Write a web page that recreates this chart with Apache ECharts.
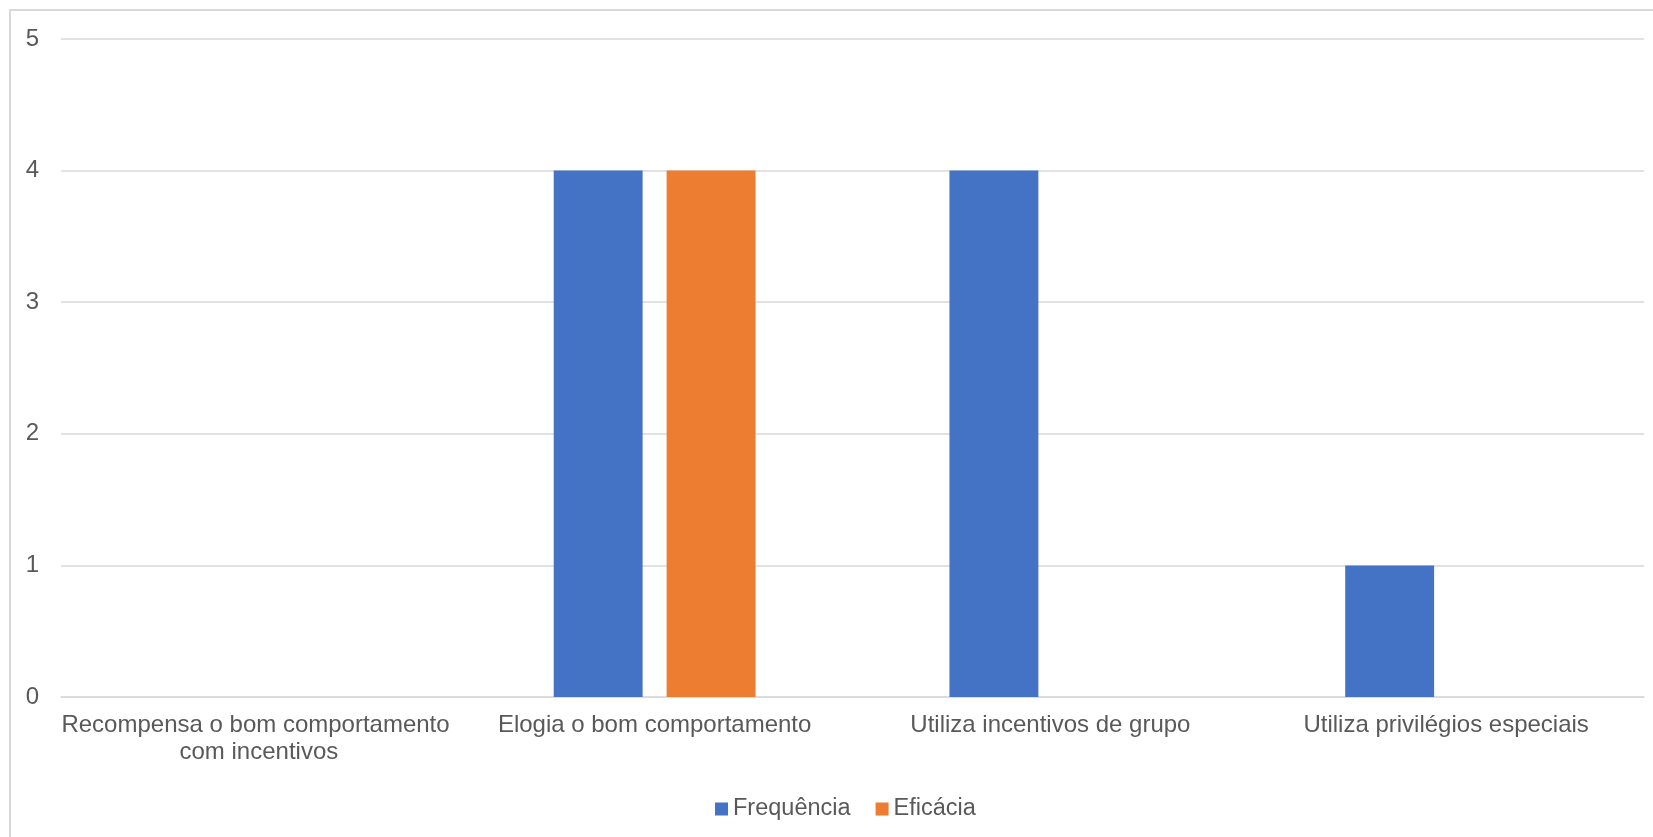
<!DOCTYPE html>
<html>
<head>
<meta charset="utf-8">
<script src="https://cdn.jsdelivr.net/npm/echarts@6/dist/echarts.min.js"></script>
<style>
  html, body { margin: 0; padding: 0; background: #fff; overflow: hidden; }
  #chart { width: 1653px; height: 837px; }
</style>
</head>
<body>
<div id="chart"></div>
<script>
// dados
var categorias = [
  'Recompensa o bom comportamento com incentivos',
  'Elogia o bom comportamento',
  'Utiliza incentivos de grupo',
  'Utiliza privilégios especiais'
];
var frequencia = [0, 4, 4, 1];
var eficacia = [0, 4, 0, 0];
var yTicks = { min: 0, max: 5, interval: 1 };

var font = '"Liberation Sans", Arial, sans-serif';
var textColor = '#595959';
var gridColor = '#d9d9d9';

var chart = echarts.init(document.getElementById('chart'));
chart.setOption({
  animation: false,
  textStyle: { fontFamily: font },
  graphic: [{
    type: 'rect',
    shape: { x: 10, y: 10, width: 1700, height: 900 },
    style: { fill: 'none', stroke: gridColor, lineWidth: 2 },
    silent: true
  }],
  grid: { left: 61, right: 9, top: 39, bottom: 140, outerBoundsMode: 'none' },
  legend: {
    left: 710,
    top: 792,
    itemWidth: 13,
    itemHeight: 13,
    itemGap: 25,
    icon: 'rect',
    textStyle: { color: textColor, fontSize: 23.5, fontFamily: font },
    data: ['Frequência', 'Eficácia']
  },
  xAxis: {
    type: 'category',
    data: categorias,
    axisLine: { lineStyle: { color: gridColor, width: 1.5 } },
    axisTick: { show: false },
    axisLabel: {
      interval: 0,
      color: textColor,
      fontSize: 24,
      lineHeight: 27,
      margin: 15,
      width: 410,
      overflow: 'break',
      fontFamily: font
    }
  },
  yAxis: {
    type: 'value',
    min: yTicks.min,
    max: yTicks.max,
    interval: yTicks.interval,
    axisLine: { show: false },
    axisTick: { show: false },
    axisLabel: { color: textColor, fontSize: 24, margin: 22, fontFamily: font },
    splitLine: { lineStyle: { color: gridColor, width: 1.5 } }
  },
  series: [
    {
      name: 'Frequência',
      type: 'bar',
      data: frequencia,
      barGap: '27%',
      barCategoryGap: '49%',
      itemStyle: { color: '#4472C4' }
    },
    {
      name: 'Eficácia',
      type: 'bar',
      data: eficacia,
      itemStyle: { color: '#ED7D31' }
    }
  ]
});
</script>
</body>
</html>
